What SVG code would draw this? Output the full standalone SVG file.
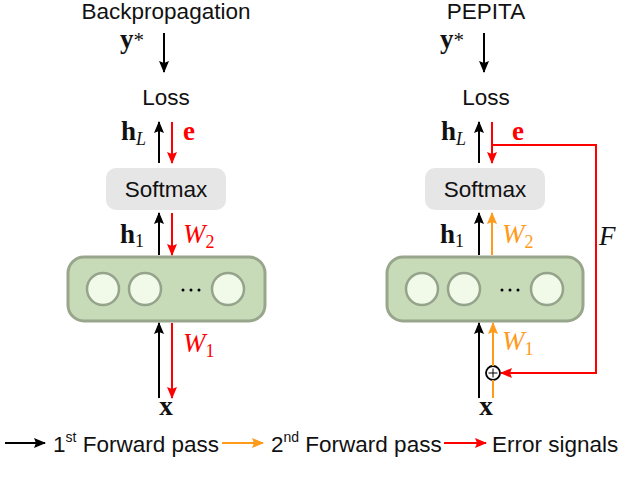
<svg xmlns="http://www.w3.org/2000/svg" width="640" height="477" viewBox="0 0 640 477">
<defs>
<marker id="ak" viewBox="0 0 12 10" refX="11" refY="5" markerWidth="12" markerHeight="10" markerUnits="userSpaceOnUse" orient="auto"><path d="M0,0 L12,5 L0,10 L2,5 Z" fill="#000"/></marker>
<marker id="ar" viewBox="0 0 12 10" refX="11" refY="5" markerWidth="12" markerHeight="10" markerUnits="userSpaceOnUse" orient="auto"><path d="M0,0 L12,5 L0,10 L2,5 Z" fill="#ff0000"/></marker>
<marker id="ao" viewBox="0 0 12 10" refX="11" refY="5" markerWidth="12" markerHeight="10" markerUnits="userSpaceOnUse" orient="auto"><path d="M0,0 L12,5 L0,10 L2,5 Z" fill="#ff9a1a"/></marker>
</defs>
<style>
.sans{font-family:"Liberation Sans",Arial,sans-serif;font-size:22.5px;fill:#111}
.mb{font-family:"Liberation Serif","DejaVu Serif",serif;font-weight:bold;font-size:27px;fill:#111}
.mi{font-family:"Liberation Serif","DejaVu Serif",serif;font-style:italic;font-size:27px}
.sub{font-size:18px}
.k{stroke:#000;stroke-width:2;fill:none;marker-end:url(#ak)}
.r{stroke:#ff0000;stroke-width:2;fill:none;marker-end:url(#ar)}
.o{stroke:#ff9a1a;stroke-width:2;fill:none;marker-end:url(#ao)}
.soft{fill:#e6e6e6}
.layer{fill:#c7dbb9;stroke:#98a68c;stroke-width:3}
.neuron{fill:#f1fae9;stroke:#95a38b;stroke-width:2.5}
</style>

<g id="bp-title"><text class="sans" x="166" y="19" text-anchor="middle">Backpropagation</text></g>
<g id="pe-title"><text class="sans" x="486" y="19" text-anchor="middle">PEPITA</text></g>

<g id="bp-ystar"><text class="mb" x="120" y="48">y<tspan font-size="21" font-weight="normal" dy="-1">*</tspan></text></g>
<g id="pe-ystar"><text class="mb" x="440" y="48">y<tspan font-size="21" font-weight="normal" dy="-1">*</tspan></text></g>

<g id="bp-loss"><text class="sans" x="166" y="105" text-anchor="middle">Loss</text></g>
<g id="pe-loss"><text class="sans" x="486" y="105" text-anchor="middle">Loss</text></g>

<g id="bp-hL"><text class="mb" x="121" y="140">h<tspan class="mi sub" font-weight="normal" dy="5">L</tspan></text></g>
<g id="pe-hL"><text class="mb" x="441" y="140">h<tspan class="mi sub" font-weight="normal" dy="5">L</tspan></text></g>
<g id="bp-e"><text class="mb" x="183" y="140" style="fill:#ff0000">e</text></g>
<g id="pe-e"><text class="mb" x="512" y="140" style="fill:#ff0000">e</text></g>

<g id="bp-softmax"><rect class="soft" x="106" y="168" width="120" height="42" rx="10"/><text class="sans" x="166" y="197" text-anchor="middle">Softmax</text></g>
<g id="pe-softmax"><rect class="soft" x="425" y="168" width="120" height="42" rx="10"/><text class="sans" x="485" y="197" text-anchor="middle">Softmax</text></g>

<g id="bp-h1"><text class="mb" x="120" y="243">h<tspan class="sub" font-weight="normal" dy="4">1</tspan></text></g>
<g id="pe-h1"><text class="mb" x="440" y="243">h<tspan class="sub" font-weight="normal" dy="4">1</tspan></text></g>
<g id="bp-W2"><text class="mi" x="183" y="243" fill="#ff0000">W<tspan class="sub" font-style="normal" dy="5">2</tspan></text></g>
<g id="pe-W2"><text class="mi" x="502" y="243" fill="#ff9a1a">W<tspan class="sub" font-style="normal" dy="5">2</tspan></text></g>

<g id="bp-layer">
<rect class="layer" x="68" y="257" width="197" height="64" rx="16"/>
<circle class="neuron" cx="103" cy="289" r="16"/>
<circle class="neuron" cx="145" cy="289" r="16"/>
<circle class="neuron" cx="228" cy="289" r="16"/>
<circle cx="183" cy="290" r="1.5" fill="#000"/><circle cx="191" cy="290" r="1.5" fill="#000"/><circle cx="199" cy="290" r="1.5" fill="#000"/>
</g>
<g id="pe-layer">
<rect class="layer" x="387" y="257" width="196" height="64" rx="16"/>
<circle class="neuron" cx="422" cy="289" r="16"/>
<circle class="neuron" cx="464" cy="289" r="16"/>
<circle class="neuron" cx="547" cy="289" r="16"/>
<circle cx="502" cy="290" r="1.5" fill="#000"/><circle cx="510" cy="290" r="1.5" fill="#000"/><circle cx="518" cy="290" r="1.5" fill="#000"/>
</g>

<g id="bp-W1"><text class="mi" x="183" y="352" fill="#ff0000">W<tspan class="sub" font-style="normal" dy="5">1</tspan></text></g>
<g id="pe-W1"><text class="mi" x="502" y="350" fill="#ff9a1a">W<tspan class="sub" font-style="normal" dy="5">1</tspan></text></g>

<g id="bp-x"><text class="mb" x="166" y="415" text-anchor="middle">x</text></g>
<g id="pe-x"><text class="mb" x="486" y="415" text-anchor="middle">x</text></g>

<g id="pe-F"><text class="mi" x="599" y="245" fill="#111">F</text></g>

<g id="pe-plus">
<circle cx="493" cy="373" r="7" fill="#fff" stroke="#000" stroke-width="1.8"/>
<path d="M488.5,373 H497.5 M493,368.5 V377.5" stroke="#000" stroke-width="1"/>
</g>

<g id="connectors">
<path class="k" d="M164,33 V72"/>
<path class="k" d="M159,163 V122"/>
<path class="r" d="M172,122 V163"/>
<path class="k" d="M159,255 V213"/>
<path class="r" d="M172,213 V255"/>
<path class="k" d="M159,398 V323"/>
<path class="r" d="M172,323 V398"/>
<path class="k" d="M484,33 V72"/>
<path class="k" d="M479,163 V122"/>
<path class="r" d="M492,122 V163"/>
<path d="M492,145 H596 V373 H510" stroke="#ff0000" stroke-width="2" fill="none"/>
<path class="r" d="M520,373 H501"/>
<path class="k" d="M479,255 V213"/>
<path class="o" d="M492,255 V213"/>
<path class="k" d="M479,398 V323"/>
<path class="o" d="M493,366 V323"/>
<path d="M493,380 V398" stroke="#ff9a1a" stroke-width="2"/>
<path class="k" d="M5,443 H45"/>
<path class="o" d="M222,443 H263"/>
<path class="r" d="M444,443 H486"/>
</g>

<g id="legend">
<text class="sans" x="53" y="452">1<tspan font-size="14" dy="-10">st</tspan><tspan dy="10"> Forward pass</tspan></text>
<text class="sans" x="271" y="452">2<tspan font-size="14" dy="-10">nd</tspan><tspan dy="10"> Forward pass</tspan></text>
<text class="sans" x="492" y="452">Error signals</text>
</g>
</svg>
